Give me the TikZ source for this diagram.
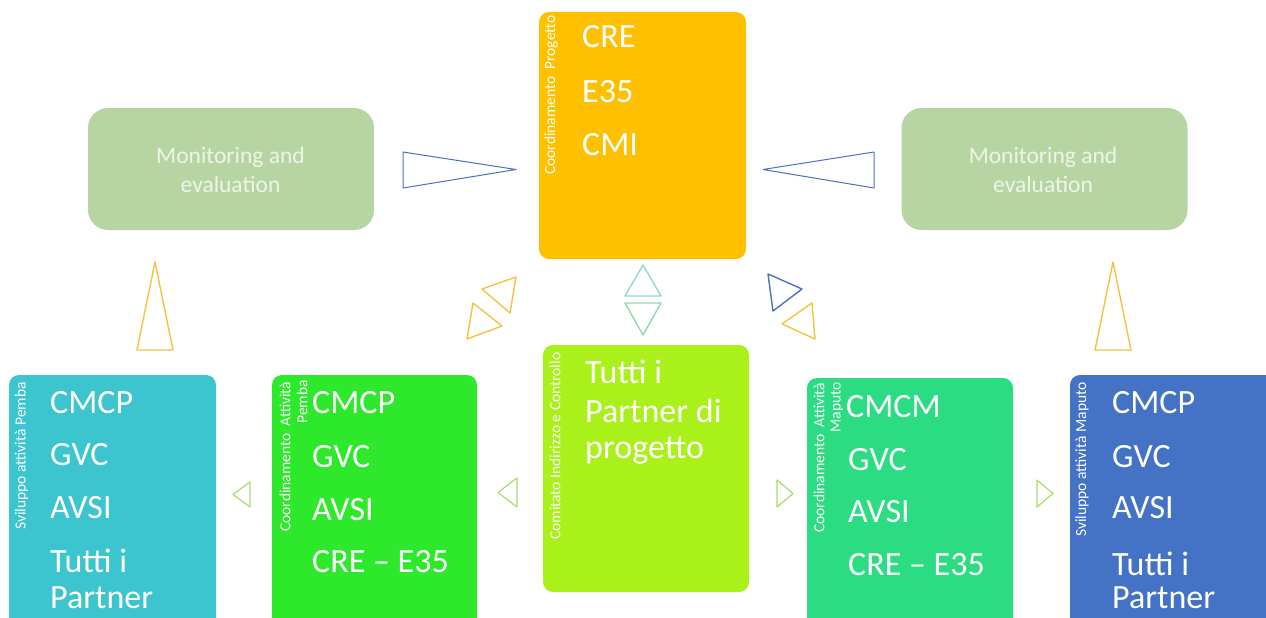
\documentclass[tikz,border=0pt]{standalone}
\usepackage{fontspec}
\setmainfont{Carlito}
\definecolor{cOrange}{HTML}{FFC000}
\definecolor{cME}{HTML}{B7D5A3}
\definecolor{cMEtext}{HTML}{EEF5E8}
\definecolor{cCyan}{HTML}{3CC4CF}
\definecolor{cGreen}{HTML}{2EE82C}
\definecolor{cLime}{HTML}{AAF01A}
\definecolor{cTeal}{HTML}{2BDC82}
\definecolor{cBlue}{HTML}{4472C4}
\definecolor{tBlue}{HTML}{4A72C2}
\definecolor{tYellow}{HTML}{F5C342}
\definecolor{tCyan}{HTML}{8ED8D6}
\definecolor{tGreen}{HTML}{88DDAA}
\definecolor{tLime}{HTML}{A4E06A}
\begin{document}
\begin{tikzpicture}[x=1pt,y=-1pt,
  box/.style={rounded corners=10pt, draw=none, inner sep=0pt},
  mebox/.style={box, rounded corners=20pt, fill=cME, minimum width=286pt, minimum height=122pt},
  item/.style={anchor=base west, text=white, inner sep=0pt, font=\fontsize{34}{40}\selectfont},
  vlab/.style={rotate=90, text=white, inner sep=0pt, font=\fontsize{15.5}{18}\selectfont},
  metext/.style={anchor=base, text=cMEtext, inner sep=0pt, font=\fontsize{23.5}{28}\selectfont},
  tri/.style={line join=round, fill=none},
  thinblue/.style={tri, draw=tBlue, line width=1pt},
  yel/.style={tri, draw=tYellow, line width=1.4pt},
]
\useasboundingbox (0,0) rectangle (1266,618);
\clip (0,0) rectangle (1266,618);
\fill[white] (0,0) rectangle (1266,618);

% ---- boxes
\node[box, fill=cOrange, minimum width=207pt, minimum height=247pt] (coord) at (642.5,135.5) {};
\node[mebox] (meL) at (231,169) {};
\node[mebox] (meR) at (1044.5,169) {};
\node[box, fill=cCyan, minimum width=207pt, minimum height=265pt] (svP) at (112.5,507.5) {};
\node[box, fill=cGreen, minimum width=205pt, minimum height=265pt] (coP) at (374.5,507.5) {};
\node[box, fill=cLime, minimum width=206pt, minimum height=247pt] (com) at (646,468.5) {};
\node[box, fill=cTeal, minimum width=206pt, minimum height=262pt] (coM) at (910,509) {};
\node[box, fill=cBlue, minimum width=210pt, minimum height=265pt] (svM) at (1175,507.5) {};

% ---- top centre
\node[vlab, anchor=west] (lcoord) at (551,175) {Coordinamento\ \ Progetto};
\node[item] (i1) at (582,48) {CRE};
\node[item] (i2) at (582,102) {E35};
\node[item] (i3) at (582,155) {CMI};

% ---- monitoring
\node[metext] (m1) at (230.5,163) {Monitoring and};
\node[metext] (m2) at (230.5,192) {evaluation};
\node[metext] (m3) at (1043,163) {Monitoring and};
\node[metext] (m4) at (1043,192) {evaluation};

% ---- box 1
\node[vlab, anchor=west] (l1) at (21.5,530) {Sviluppo attività Pemba};
\node[item] (a1) at (50,413) {CMCP};
\node[item] (a2) at (50,465) {GVC};
\node[item] (a3) at (50,518) {AVSI};
\node[item] (a4) at (50,572) {Tutti i};
\node[item] (a5) at (50,608) {Partner};

% ---- box 2
\node[vlab, anchor=west] (l2a) at (285,532) {Coordinamento\ \ Attività};
\node[vlab, anchor=east] (l2b) at (302,380) {Pemba};
\node[item] (b1) at (312,413) {CMCP};
\node[item] (b2) at (312,467) {GVC};
\node[item] (b3) at (312,520) {AVSI};
\node[item] (b4) at (312,572) {CRE – E35};

% ---- box 3
\node[vlab, anchor=west] (l3) at (555,540) {Comitato Indirizzo e Controllo};
\node[item] (c1) at (585,383) {Tutti i};
\node[item] (c2) at (585,422) {Partner di};
\node[item] (c3) at (585,458) {progetto};

% ---- box 4
\node[vlab, anchor=west] (l4a) at (819,533) {Coordinamento\ \ Attività};
\node[vlab, anchor=east] (l4b) at (837,382) {Maputo};
\node[item] (d1) at (846,417) {CMCM};
\node[item] (d2) at (848,470) {GVC};
\node[item] (d3) at (848,522) {AVSI};
\node[item] (d4) at (848,575) {CRE – E35};

% ---- box 5
\node[vlab, anchor=west] (l5) at (1082,537) {Sviluppo attività Maputo};
\node[item] (e1) at (1112,413) {CMCP};
\node[item] (e2) at (1112,467) {GVC};
\node[item] (e3) at (1112,518) {AVSI};
\node[item] (e4) at (1112,575) {Tutti i};
\node[item] (e5) at (1112,608) {Partner};

% ---- triangles
\draw[thinblue] (403,152) -- (403,188) -- (516,169.5) -- cycle;
\draw[thinblue] (874,152) -- (874,188) -- (763,169.5) -- cycle;
\draw[yel] (155,262) -- (173,350) -- (137,350) -- cycle;
\draw[yel] (1113,262) -- (1131,350) -- (1095,350) -- cycle;
\draw[yel] (482,289) -- (516,277) -- (510,313) -- cycle;
\draw[yel] (467,339) -- (473,303) -- (502,326) -- cycle;
\draw[yel] (812,303) -- (782,324) -- (815,339) -- cycle;
\draw[tri, draw=tBlue, line width=1.4pt] (768,274) -- (802,289) -- (773,311) -- cycle;
\draw[tri, draw=tCyan, line width=1.4pt] (643,265) -- (661,296) -- (625,296) -- cycle;
\draw[tri, draw=tGreen, line width=1.4pt] (625,303) -- (661,303) -- (643,335) -- cycle;
\draw[tri, draw=tLime, line width=1.2pt] (250,482) -- (250,507) -- (233,494.5) -- cycle;
\draw[tri, draw=tLime, line width=1.2pt] (517,478) -- (517,507) -- (498,492.5) -- cycle;
\draw[tri, draw=tLime, line width=1.2pt] (777,480) -- (777,507) -- (793,493.5) -- cycle;
\draw[tri, draw=tLime, line width=1.2pt] (1037,480) -- (1037,507) -- (1053,493.5) -- cycle;
\end{tikzpicture}
\end{document}
